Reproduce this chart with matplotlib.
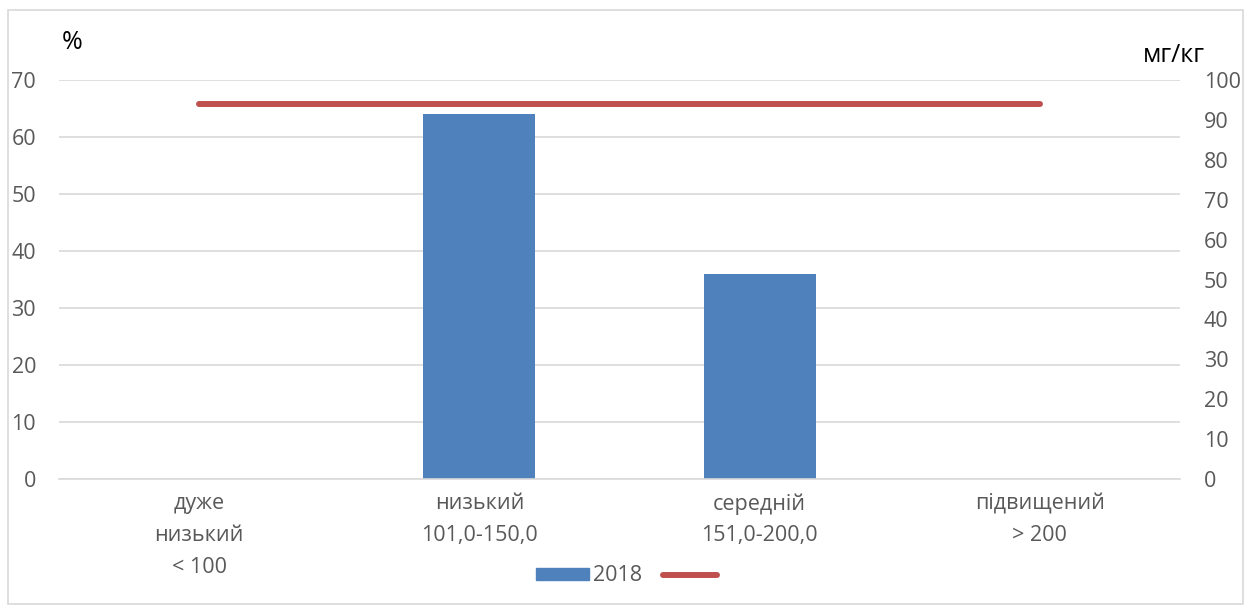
import matplotlib.pyplot as plt
from matplotlib.patches import Rectangle
from matplotlib.lines import Line2D
import numpy as np

plt.rcParams['font.family'] = ['Open Sans', 'DejaVu Sans']

categories = ['дуже\nнизький\n< 100', 'низький\n101,0-150,0',
              'середній\n151,0-200,0', 'підвищений\n> 200']
share_2018 = [0, 64, 36, 0]          # %, left axis
content_line = [94, 94, 94, 94]      # мг/кг, right axis

blue = '#4F81BD'
red = '#C0504D'
grey = '#595959'

fig = plt.figure(figsize=(12.56, 6.05), dpi=100)
ax = fig.add_axes([0.047, 0.208, 0.8925, 0.66])
x = np.arange(len(categories))

ax.bar(x, share_2018, width=0.4, color=blue, zorder=2)
ax.set_xlim(-0.5, 3.5)
ax.set_ylim(0, 70)
ax.set_yticks(range(0, 71, 10))
ax.set_xticks(x)
ax.set_xticklabels(categories, linespacing=1.68)
ax.yaxis.grid(True, color='#D9D9D9', linewidth=1.2, zorder=0)
ax.set_axisbelow(True)
for s in ax.spines.values():
    s.set_visible(False)
ax.spines['bottom'].set_visible(True)
ax.spines['bottom'].set_color('#D9D9D9')
ax.spines['bottom'].set_linewidth(1.2)
ax.tick_params(axis='both', length=0, labelsize=15.5, colors=grey)
ax.tick_params(axis='y', pad=16.5)
ax.tick_params(axis='x', pad=10)

ax2 = ax.twinx()
ax2.plot(x, content_line, color=red, linewidth=4.3, solid_capstyle='round', zorder=3)
ax2.set_ylim(0, 100)
ax2.set_yticks(range(0, 101, 10))
for s in ax2.spines.values():
    s.set_visible(False)
ax2.tick_params(axis='y', length=0, labelsize=15.5, colors=grey, pad=17)

fig.text(0.049, 0.93, '%', fontsize=18, color='black', va='center', ha='left')
fig.text(0.935, 0.908, 'мг/кг', fontsize=18, color='black', va='center', ha='center')

handles = [Rectangle((0, 0), 1, 1, color=blue),
           Line2D([0], [0], color=red, linewidth=4.3, solid_capstyle='round')]
fig.legend(handles, ['2018', ''], loc='center', bbox_to_anchor=(0.5, 0.048),
           ncol=2, frameon=False, fontsize=15.5, handlelength=2.5,
           handleheight=0.45, handletextpad=0.15, columnspacing=1.0,
           labelcolor=grey)

fig.patches.append(Rectangle((8 / 1256, 0.002), (1243 - 8) / 1256, 1 - 10 / 605 - 0.002,
                             transform=fig.transFigure, fill=False,
                             edgecolor='#D9D9D9', linewidth=1.2))

fig.savefig('out.png', dpi=100)
